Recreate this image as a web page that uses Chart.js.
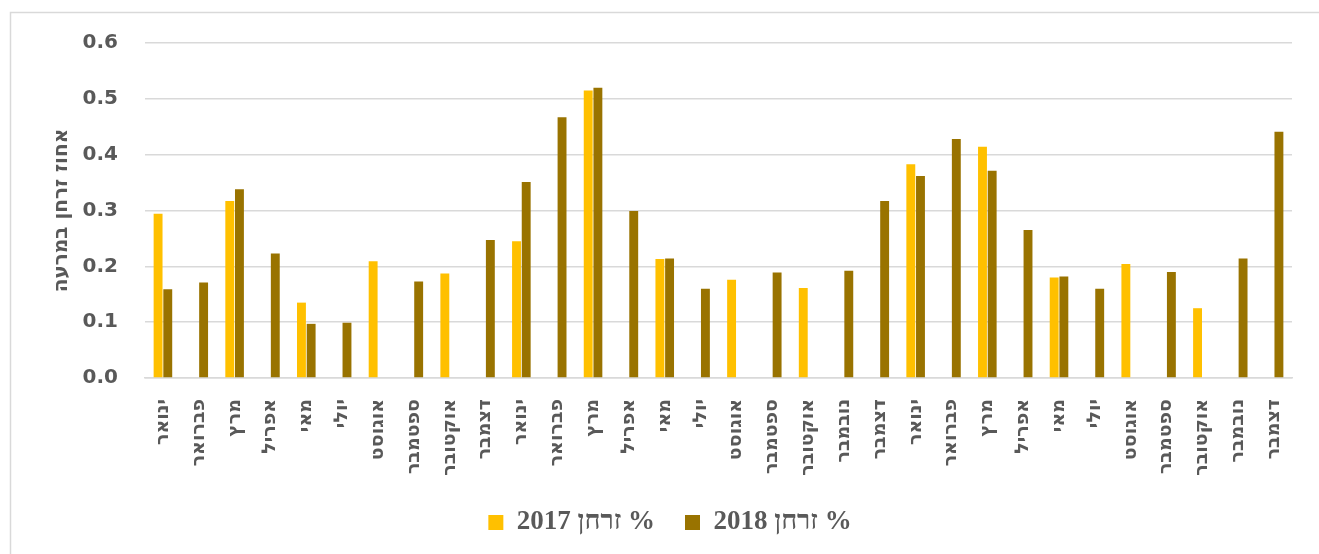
<!DOCTYPE html>
<html lang="he">
<head>
<meta charset="utf-8">
<script src="https://cdn.jsdelivr.net/npm/chart.js@4/dist/chart.umd.min.js"></script>
<style>
  html, body { margin: 0; padding: 0; background: #ffffff; }
  #wrap { position: relative; width: 1319px; height: 554px; }
</style>
</head>
<body>
<div id="wrap"><canvas id="c" width="1319" height="554"></canvas></div>
<script>
// Months covered by the measurements (three sampling years in a row)
const months = [
  'ינואר', 'פברואר', 'מרץ', 'אפריל', 'מאי', 'יולי', 'אוגוסט', 'ספטמבר', 'אוקטובר', 'דצמבר',
  'ינואר', 'פברואר', 'מרץ', 'אפריל', 'מאי', 'יולי', 'אוגוסט', 'ספטמבר', 'אוקטובר', 'נובמבר', 'דצמבר',
  'ינואר', 'פברואר', 'מרץ', 'אפריל', 'מאי', 'יולי', 'אוגוסט', 'ספטמבר', 'אוקטובר', 'נובמבר', 'דצמבר'
];

// Phosphorus share in pasture (%)
const phosphorus2017 = [
  0.294, null, 0.317, null, 0.135, null, 0.209, null, 0.187, null,
  0.245, null, 0.515, null, 0.213, null, 0.176, null, 0.161, null, null,
  0.383, null, 0.414, null, 0.180, null, 0.204, null, 0.125, null, null
];
const phosphorus2018 = [
  0.159, 0.171, 0.338, 0.223, 0.097, 0.099, null, 0.173, null, 0.247,
  0.351, 0.467, 0.520, 0.299, 0.214, 0.160, null, 0.189, null, 0.192, 0.317,
  0.362, 0.428, 0.371, 0.265, 0.182, 0.160, null, 0.190, null, 0.214, 0.441
];

const seriesNames = ['% זרחן 2017', '% זרחן 2018'];
const yTicks = [0, 0.1, 0.2, 0.3, 0.4, 0.5, 0.6];
const yTitle = 'אחוז זרחן במרעה';

const TEXT = '#595959';
const GRID = '#d9d9d9';

// Outer frame of the chart
const framePlugin = {
  id: 'frame',
  beforeDraw(chart) {
    const ctx = chart.ctx;
    ctx.save();
    ctx.strokeStyle = GRID;
    ctx.lineWidth = 1.5;
    ctx.strokeRect(10.5, 12.5, chart.width + 20, chart.height + 20);
    ctx.restore();
  }
};

// Month names set vertically under each category, first letter on top
const verticalMonthLabels = {
  id: 'verticalMonthLabels',
  afterDraw(chart) {
    const xs = chart.scales.x;
    const ctx = chart.ctx;
    ctx.save();
    ctx.fillStyle = TEXT;
    ctx.font = 'bold 19px "DejaVu Sans"';
    ctx.textBaseline = 'middle';
    ctx.textAlign = 'right';
    const top = xs.top + 21;
    xs.ticks.forEach((t, i) => {
      const x = xs.getPixelForTick(i);
      ctx.save();
      ctx.translate(x, top);
      ctx.rotate(-Math.PI / 2);
      ctx.fillText(months[i], 0, 0);
      ctx.restore();
    });
    ctx.restore();
  }
};

new Chart(document.getElementById('c'), {
  type: 'bar',
  data: {
    labels: months,
    datasets: [
      {
        label: seriesNames[0],
        data: phosphorus2017,
        backgroundColor: '#ffc000',
        borderWidth: 0,
        categoryPercentage: 0.54,
        barPercentage: 0.92
      },
      {
        label: seriesNames[1],
        data: phosphorus2018,
        backgroundColor: '#997300',
        borderWidth: 0,
        categoryPercentage: 0.54,
        barPercentage: 0.92
      }
    ]
  },
  options: {
    responsive: false,
    animation: false,
    devicePixelRatio: 1,
    layout: { padding: { left: 48, right: 27, top: 43, bottom: 8 } },
    plugins: {
      tooltip: { enabled: false },
      legend: {
        position: 'bottom',
        rtl: false,
        textDirection: 'rtl',
        labels: {
          boxWidth: 15,
          boxHeight: 15,
          padding: 30,
          color: TEXT,
          font: { family: '"Liberation Serif"', size: 27, weight: 'bold' }
        }
      }
    },
    scales: {
      x: {
        grid: { display: false },
        border: { display: true, color: GRID, width: 1.5 },
        ticks: { display: false },
        afterFit(scale) { scale.height = 101; }
      },
      y: {
        min: 0,
        max: 0.6,
        afterBuildTicks(scale) { scale.ticks = yTicks.map(v => ({ value: v })); },
        grid: { color: GRID, lineWidth: 1.5, drawTicks: false },
        border: { display: false },
        ticks: {
          padding: 27,
          color: TEXT,
          font: { family: '"DejaVu Sans"', size: 20, weight: 'bold' },
          callback: v => v.toFixed(1)
        },
        title: {
          display: true,
          text: yTitle,
          color: TEXT,
          font: { family: '"DejaVu Sans"', size: 20, weight: 'bold' },
          padding: { top: 2, bottom: 4 }
        },
        afterFit(scale) { scale.width = 97; }
      }
    }
  },
  plugins: [framePlugin, verticalMonthLabels]
});
</script>
</body>
</html>
